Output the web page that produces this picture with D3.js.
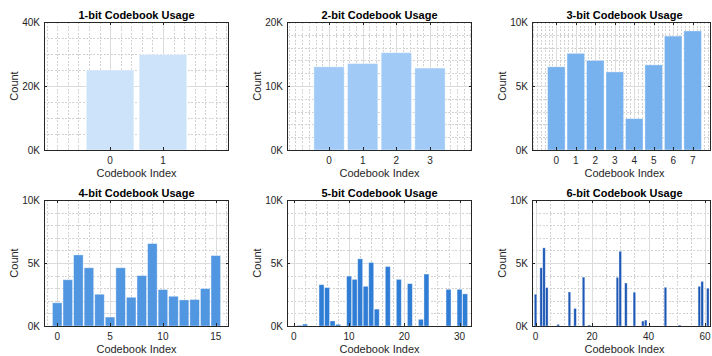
<!DOCTYPE html>
<html>
<head>
<meta charset="utf-8">
<script src="https://cdn.jsdelivr.net/npm/d3@7"></script>
<style>
  html, body { margin: 0; padding: 0; background: #ffffff; }
  svg { display: block; }
</style>
</head>
<body>
<script>
// Codebook usage counts for each quantizer bit width
const usage1 = [25000, 29800];
const usage2 = [13000, 13500, 15200, 12800];
const usage3 = [6500, 7550, 7000, 6100, 2450, 6650, 8900, 9300];
const usage4 = [1840, 3670, 5640, 4620, 2520, 710, 4620, 2280, 4000, 6540, 2890, 2360, 2070, 2100, 2970, 5590];
const usage5 = [0, 50, 150, 0, 0, 3280, 3050, 400, 130, 0, 3960, 3700, 5330, 3150, 5040, 1340,
                0, 4720, 0, 3700, 0, 3360, 0, 530, 4120, 0, 0, 0, 2910, 0, 2910, 2550];
const usage6 = [2520, 0, 4620, 6200, 3050, 0, 0, 0, 130, 0, 0, 0, 2700, 0, 1390, 0,
                0, 3880, 0, 80, 0, 0, 0, 0, 0, 0, 0, 0, 0, 3860, 5930, 0,
                3410, 0, 0, 2680, 0, 0, 390, 470, 0, 0, 0, 0, 0, 0, 3070, 0,
                0, 0, 0, 80, 0, 0, 0, 0, 0, 0, 3150, 3540, 0, 3000, 0, 0];

const titles = ["1-bit Codebook Usage", "2-bit Codebook Usage", "3-bit Codebook Usage",
                "4-bit Codebook Usage", "5-bit Codebook Usage", "6-bit Codebook Usage"];
const barColors = ["#cce3f9", "#a1cbf6", "#77b1ee", "#5196e0", "#2f7dd5", "#1c57b5"];
const yMaxes = [40000, 20000, 10000, 10000, 10000, 10000];
const yTickValues = [[0, 20000, 40000], [0, 10000, 20000], [0, 5000, 10000],
                     [0, 5000, 10000], [0, 5000, 10000], [0, 5000, 10000]];
const xTickValues = [[0, 1], [0, 1, 2, 3], [0, 1, 2, 3, 4, 5, 6, 7],
                     [0, 5, 10, 15], [0, 10, 20, 30], [0, 20, 40, 60]];
const xMinorSteps = [0.2, 0.2, 0.2, 1, 2, 5];
const yMinorSteps = [5000, 2000, 1000, 1000, 1000, 1000];
const xLabel = "Codebook Index";
const yLabel = "Count";

const series = [usage1, usage2, usage3, usage4, usage5, usage6];

// Tile geometry
const W = 712, H = 356;
const colLeft = [44, 287, 532];
const plotW = 185;
const rowTop = [22, 200];
const rowBottom = [150, 326];
const maxRight = 711;

const axisColor = "#262626";
const textColor = "#262626";
const majorGrid = "#dcdcdc";
const minorGrid = "#d2d2d2";

const svg = d3.select("body").append("svg")
  .attr("width", W).attr("height", H)
  .style("font-family", "'Liberation Sans', Arial, Helvetica, sans-serif");

const fmtK = d => (d / 1000) + "K";

function stepValues(lo, hi, step) {
  const out = [];
  const start = Math.ceil(lo / step - 1e-9);
  for (let k = start; k * step <= hi + 1e-9; k++) out.push(+(k * step).toFixed(6));
  return out;
}

series.forEach((values, i) => {
  const col = i % 3, row = Math.floor(i / 3);
  const x0 = colLeft[col];
  const x1 = x0 + plotW;
  const xr = Math.min(x1, maxRight);
  const y0 = rowTop[row], y1 = rowBottom[row];
  const n = values.length;

  const x = d3.scaleLinear().domain([-1.25, n + 0.25]).range([x0, x1]);
  const y = d3.scaleLinear().domain([0, yMaxes[i]]).range([y1, y0]);

  const g = svg.append("g");
  const clipId = "clip" + i;
  svg.append("clipPath").attr("id", clipId)
    .append("rect").attr("x", x0).attr("y", y0).attr("width", xr - x0).attr("height", y1 - y0);

  const grid = g.append("g").attr("clip-path", `url(#${clipId})`).attr("shape-rendering", "crispEdges");

  const xMajor = xTickValues[i];
  const yMajor = yTickValues[i];
  const xMinor = stepValues(x.domain()[0], x.domain()[1], xMinorSteps[i]).filter(v => !xMajor.includes(v));
  const yMinor = stepValues(0, yMaxes[i], yMinorSteps[i]).filter(v => !yMajor.includes(v));

  // minor grid (dotted)
  grid.selectAll(".xmin").data(xMinor).join("line")
    .attr("x1", d => Math.round(x(d)) + 0.5).attr("x2", d => Math.round(x(d)) + 0.5)
    .attr("y1", y0).attr("y2", y1)
    .attr("stroke", minorGrid).attr("stroke-dasharray", "2,1.5");
  grid.selectAll(".ymin").data(yMinor).join("line")
    .attr("x1", x0).attr("x2", xr)
    .attr("y1", d => Math.round(y(d)) + 0.5).attr("y2", d => Math.round(y(d)) + 0.5)
    .attr("stroke", minorGrid).attr("stroke-dasharray", "2,1.5");
  // major grid (solid)
  grid.selectAll(".xmaj").data(xMajor).join("line")
    .attr("x1", d => Math.round(x(d)) + 0.5).attr("x2", d => Math.round(x(d)) + 0.5)
    .attr("y1", y0).attr("y2", y1)
    .attr("stroke", majorGrid);
  grid.selectAll(".ymaj").data(yMajor).join("line")
    .attr("x1", x0).attr("x2", xr)
    .attr("y1", d => Math.round(y(d)) + 0.5).attr("y2", d => Math.round(y(d)) + 0.5)
    .attr("stroke", majorGrid);

  // bars
  const bw = x(0.9) - x(0);
  g.append("g").attr("clip-path", `url(#${clipId})`)
    .selectAll("rect").data(values).join("rect")
    .attr("x", (d, k) => x(k - 0.45))
    .attr("width", bw)
    .attr("y", d => y(d))
    .attr("height", d => y(0) - y(d))
    .attr("fill", barColors[i])
    .attr("stroke", "#ffffff")
    .attr("stroke-opacity", 0.45)
    .attr("stroke-width", 0.8);

  // frame
  g.append("rect")
    .attr("x", x0 + 0.5).attr("y", y0 + 0.5)
    .attr("width", xr - x0 - 1).attr("height", y1 - y0)
    .attr("fill", "none").attr("stroke", axisColor).attr("stroke-width", 1)
    .attr("shape-rendering", "crispEdges");

  // tick marks, inward on all four sides
  const ticks = g.append("g").attr("stroke", axisColor).attr("shape-rendering", "crispEdges");
  const tl = 3;
  ticks.selectAll(".xtb").data(xMajor.filter(d => x(d) <= xr)).join("line")
    .attr("x1", d => Math.round(x(d)) + 0.5).attr("x2", d => Math.round(x(d)) + 0.5)
    .attr("y1", y1).attr("y2", y1 - tl);
  ticks.selectAll(".xtt").data(xMajor.filter(d => x(d) <= xr)).join("line")
    .attr("x1", d => Math.round(x(d)) + 0.5).attr("x2", d => Math.round(x(d)) + 0.5)
    .attr("y1", y0).attr("y2", y0 + tl);
  ticks.selectAll(".ytl").data(yMajor).join("line")
    .attr("x1", x0).attr("x2", x0 + tl)
    .attr("y1", d => Math.round(y(d)) + 0.5).attr("y2", d => Math.round(y(d)) + 0.5);
  ticks.selectAll(".ytr").data(yMajor).join("line")
    .attr("x1", xr).attr("x2", xr - tl)
    .attr("y1", d => Math.round(y(d)) + 0.5).attr("y2", d => Math.round(y(d)) + 0.5);

  // tick labels
  g.selectAll(".xl").data(xMajor).join("text")
    .attr("x", d => x(d)).attr("y", y1 + 7).attr("dy", "0.71em")
    .attr("text-anchor", "middle").attr("font-size", 10).attr("fill", textColor)
    .text(d => d);
  g.selectAll(".yl").data(yMajor).join("text")
    .attr("x", x0 - 4).attr("y", d => y(d)).attr("dy", "0.35em")
    .attr("text-anchor", "end").attr("font-size", 10).attr("fill", textColor)
    .text(fmtK);

  // axis labels
  g.append("text")
    .attr("x", (x0 + x1) / 2).attr("y", y1 + 27)
    .attr("text-anchor", "middle").attr("font-size", 11).attr("fill", textColor)
    .text(xLabel);
  g.append("text")
    .attr("transform", `translate(${x0 - 26},${(y0 + y1) / 2}) rotate(-90)`)
    .attr("text-anchor", "middle").attr("font-size", 11).attr("fill", textColor)
    .text(yLabel);

  // title
  g.append("text")
    .attr("x", (x0 + x1) / 2).attr("y", y0 - 3.5)
    .attr("text-anchor", "middle").attr("font-size", 11).attr("font-weight", "bold")
    .attr("fill", "#000000")
    .text(titles[i]);
});
</script>
</body>
</html>
